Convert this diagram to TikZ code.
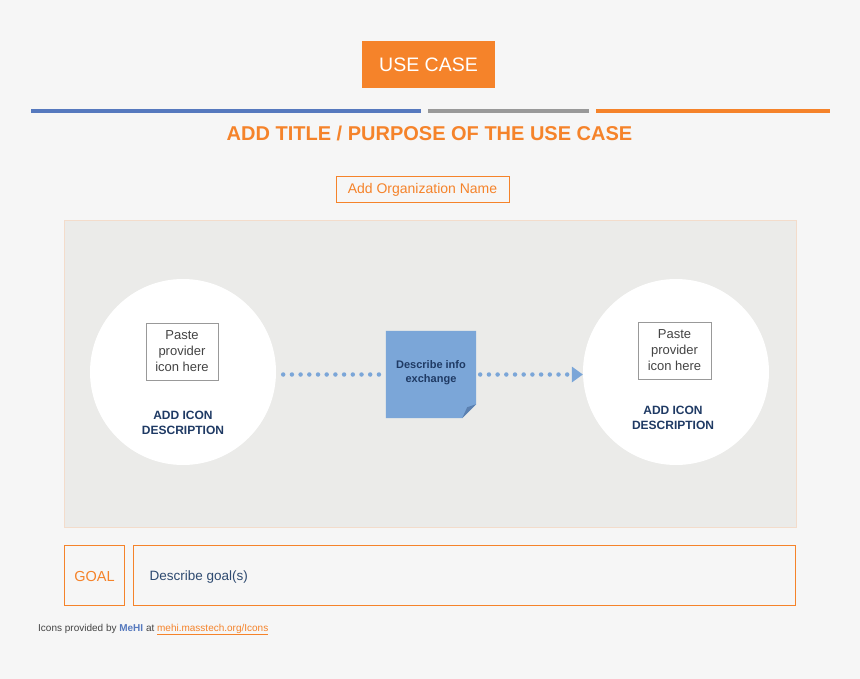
\documentclass[tikz,border=0pt]{standalone}
\usepackage{fontspec}
\setmainfont{Liberation Sans}
\usetikzlibrary{arrows.meta,positioning}
\definecolor{bgc}{HTML}{F6F6F6}
\definecolor{panelc}{HTML}{EBEBE9}
\definecolor{panelb}{HTML}{F3DCCB}
\definecolor{orng}{HTML}{F5832A}
\definecolor{blueline}{HTML}{5679BE}
\definecolor{grayline}{HTML}{999999}
\definecolor{navy}{HTML}{1F3A64}
\definecolor{notec}{HTML}{7BA6D8}
\definecolor{foldc}{HTML}{5B80B0}
\definecolor{txtgray}{HTML}{444444}
\definecolor{goaltxt}{HTML}{2E4A70}
\tikzset{
  bar/.style={line width=4pt},
  orgbox/.style={draw=orng, line width=1pt, text=orng, inner sep=0pt},
  iconbox/.style={draw=gray!80, line width=0.8pt, fill=white, text=txtgray, align=center, font=\fontsize{13}{16}\selectfont, inner sep=0pt},
  desc/.style={text=navy, align=center, font=\bfseries\fontsize{12}{15}\selectfont},
  circ/.style={circle, fill=white, minimum size=186pt, inner sep=0pt},
  dotted flow/.style={notec, line width=4.5pt, line cap=round, dash pattern=on 0pt off 8.7pt},
}
\begin{document}
\begin{tikzpicture}[x=1pt,y=-1pt]
\fill[bgc] (0,0) rectangle (860,679);
\useasboundingbox (0,0) rectangle (860,679);
% header
\node[fill=orng, minimum width=133pt, minimum height=47pt, inner sep=0pt, text=white, font=\fontsize{19.5}{22}\selectfont] (uc) at (428.5,64.5) {USE CASE};
\coordinate (b1a) at (31,111); \coordinate (b1b) at (421,111);
\coordinate (b2a) at (428,111); \coordinate (b2b) at (589,111);
\coordinate (b3a) at (596,111); \coordinate (b3b) at (830,111);
\draw[bar, blueline] (b1a) -- (b1b);
\draw[bar, grayline] (b2a) -- (b2b);
\draw[bar, orng] (b3a) -- (b3b);
\node[text=orng, font=\bfseries\fontsize{20}{22}\selectfont] (title) at (429.5,133) {ADD TITLE / PURPOSE OF THE USE CASE};
\node[orgbox, minimum width=173pt, minimum height=26pt, font=\fontsize{14}{16}\selectfont] (org) at (422.5,190) {Add Organization Name};
% panel
\node[draw=panelb, fill=panelc, line width=0.8pt, minimum width=732pt, minimum height=307pt, inner sep=0pt] (panel) at (430,373.5) {};
\node[circ] (lc) at (183,372) {};
\node[circ] (rc) at (676,372) {};
\node[iconbox, minimum width=72pt, minimum height=57pt] (li) at (182,351.5) {Paste\\provider\\icon here};
\node[iconbox, minimum width=73pt, minimum height=57pt] (ri) at (674.5,350.5) {Paste\\provider\\icon here};
\node[desc] (ld) at (183,422.5) {ADD ICON\\DESCRIPTION};
\node[desc] (rd) at (673,418) {ADD ICON\\DESCRIPTION};
% note
\node[minimum width=90pt, minimum height=87pt, inner sep=0pt] (note) at (431,374.5) {};
\fill[notec] (note.north west) -- (note.north east) -- ([yshift=14pt]note.south east) -- ([xshift=-14pt]note.south east) -- (note.south west) -- cycle;
\fill[foldc] ([yshift=14pt]note.south east) -- ([xshift=-14pt]note.south east) -- ([xshift=-9pt,yshift=11pt]note.south east) -- cycle;
\node[text=navy, align=center, font=\bfseries\fontsize{11}{14}\selectfont] (notetxt) at ([yshift=2pt]note.center) {Describe info\\exchange};
% flows
\draw[dotted flow, shorten <=7pt, shorten >=3pt] (lc.east |- note.west) -- (note.west);
\draw[dotted flow, shorten <=4pt, shorten >=12pt] (note.east) -- (rc.west |- note.east);
\coordinate (tipend) at (rc.west |- note.east);
\fill[notec] (tipend) -- ++(-11,-8) -- ++(0,16) -- cycle;
% goal
\node[draw=orng, line width=1pt, minimum width=60pt, minimum height=60pt, inner sep=0pt] (goal) at (94,575) {};
\node[text=orng, font=\fontsize{14.5}{16}\selectfont] (goalt) at (94.5,577) {GOAL};
\node[draw=orng, line width=1pt, minimum width=662pt, minimum height=60pt, inner sep=0pt] (gd) at (464,575) {};
\node[anchor=west, text=goaltxt, font=\fontsize{13.5}{16}\selectfont] (gdt) at (146,577.5) {Describe goal(s)};
% footer
\node[anchor=west, text=txtgray, font=\fontsize{10}{12}\selectfont, inner sep=0pt] (foot) at (38,629.5) {Icons provided by \textcolor{blueline}{\bfseries MeHI} at \textcolor{orng}{\underline{mehi.masstech.org/Icons}}};
\end{tikzpicture}
\end{document}
